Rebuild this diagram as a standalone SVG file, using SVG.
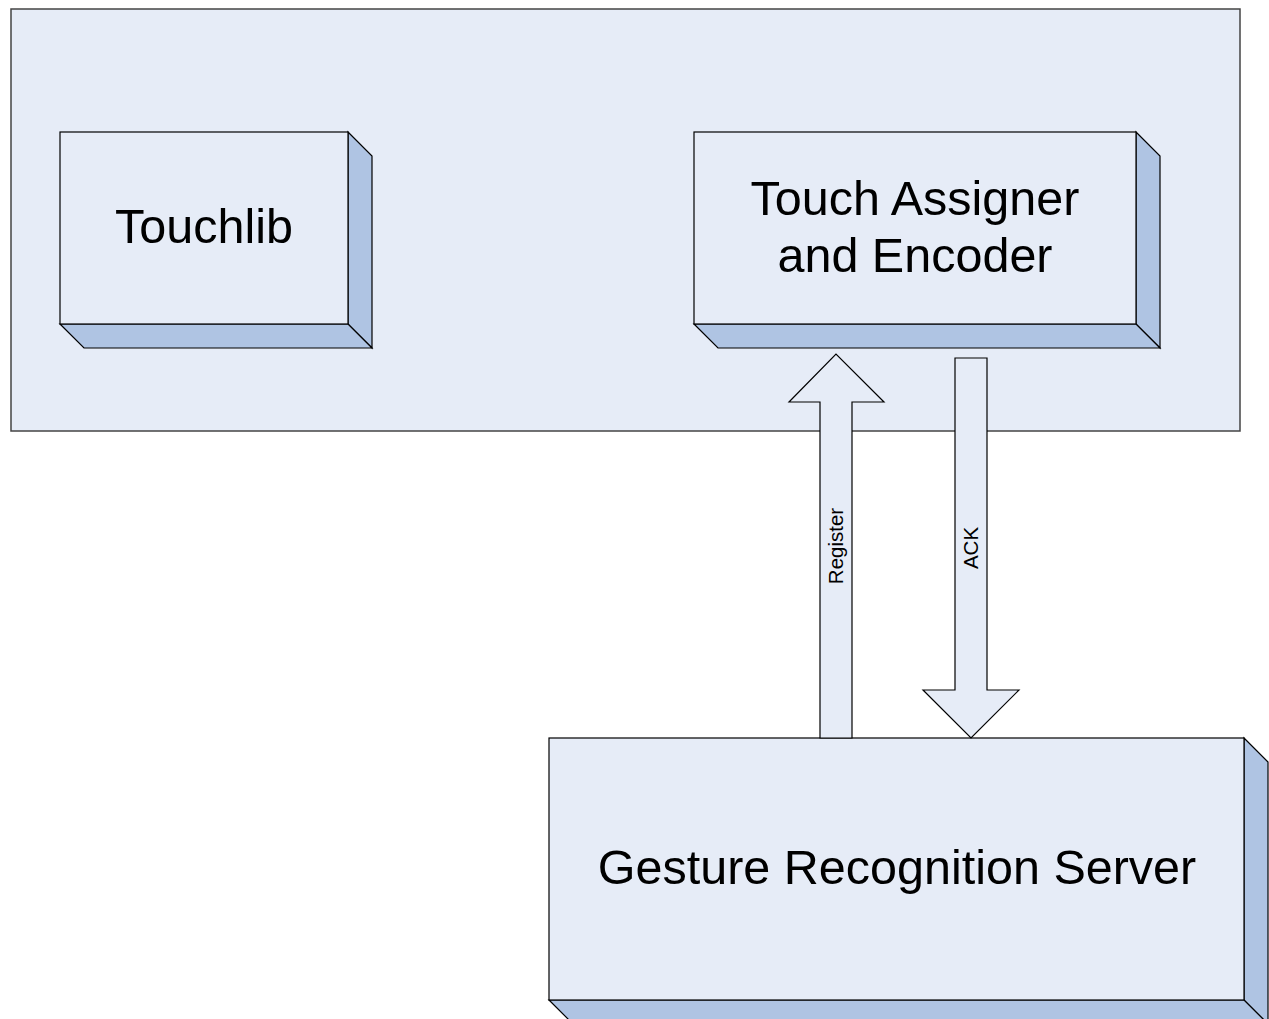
<svg xmlns="http://www.w3.org/2000/svg" width="1269" height="1019" viewBox="0 0 1269 1019">
  <style>
    .face { fill: #E6ECF7; stroke: #000; stroke-width: 1.2; }
    .side { fill: #AFC4E3; stroke: #000; stroke-width: 1.2; stroke-linejoin: miter; }
    .frame { fill: #E6ECF7; stroke: #444; stroke-width: 1.5; }
    .arrow { fill: #E6ECF7; stroke: #000; stroke-width: 1.2; }
    .big { font-family: "Liberation Sans", Arial, sans-serif; font-size: 48.5px; fill: #000; text-anchor: middle; }
    .small { font-family: "Liberation Sans", Arial, sans-serif; font-size: 20.5px; fill: #000; text-anchor: middle; }
  </style>
  <rect width="1269" height="1019" fill="#FFFFFF"/>

  <!-- enclosing client area -->
  <g id="client-area">
    <rect class="frame" x="11" y="9" width="1229" height="422"/>
  </g>

  <!-- Touchlib block -->
  <g id="touchlib">
    <polygon class="side" points="348,132 372,156 372,348 348,324"/>
    <polygon class="side" points="60,324 348,324 372,348 84,348"/>
    <rect class="face" x="60" y="132" width="288" height="192"/>
    <text class="big" x="204" y="243">Touchlib</text>
  </g>

  <!-- Touch Assigner and Encoder block -->
  <g id="touch-assigner">
    <polygon class="side" points="1136,132 1160,156 1160,348 1136,324"/>
    <polygon class="side" points="694,324 1136,324 1160,348 718,348"/>
    <rect class="face" x="694" y="132" width="442" height="192"/>
    <text class="big" x="915" y="215">Touch Assigner</text>
    <text class="big" x="915" y="272">and Encoder</text>
  </g>

  <!-- Gesture Recognition Server block -->
  <g id="gesture-server">
    <polygon class="side" points="1244,738 1268,762 1268,1024 1244,1000"/>
    <polygon class="side" points="549,1000 1244,1000 1268,1024 573,1024"/>
    <rect class="face" x="549" y="738" width="695" height="262"/>
    <text class="big" x="897" y="884">Gesture Recognition Server</text>
  </g>

  <!-- block arrows between server and encoder -->
  <g id="connectors">
    <g id="register">
      <polygon class="arrow" points="820,738 820,402 789,402 836,354 884,402 852,402 852,738"/>
      <text class="small" transform="translate(843,546) rotate(-90)">Register</text>
    </g>
    <g id="ack">
      <polygon class="arrow" points="955,358 987,358 987,690 1019,690 971,738 923,690 955,690"/>
      <text class="small" transform="translate(978,548) rotate(-90)">ACK</text>
    </g>
  </g>
</svg>
